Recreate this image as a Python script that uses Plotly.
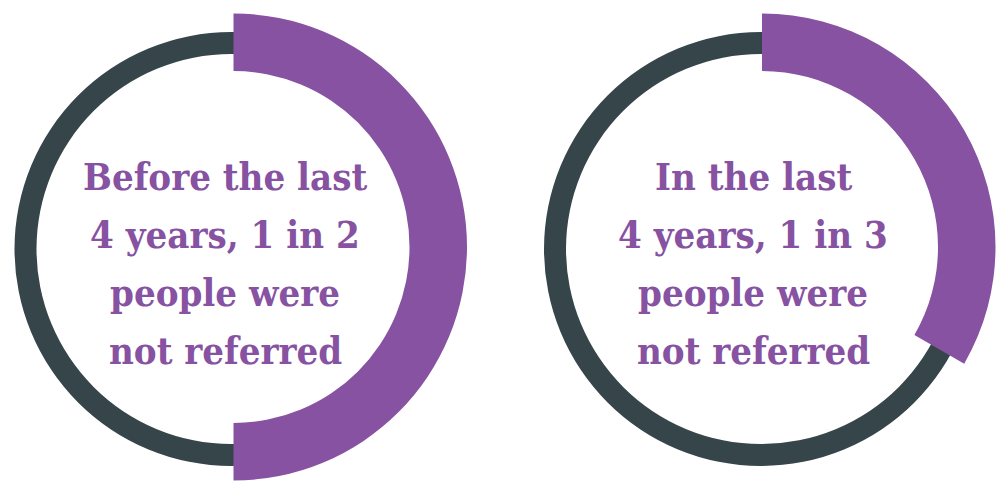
import plotly.graph_objects as go

# Data
panels = ["Before the last 4 years", "In the last 4 years"]
not_referred = [1, 1]      # 1 in 2, 1 in 3
referred = [1, 2]
text_lines = [
    ["Before the last", "4 years, 1 in 2", "people were", "not referred"],
    ["In the last", "4 years, 1 in 3", "people were", "not referred"],
]

PURPLE = "#8652A1"
DARK = "#36454A"
W, H = 1008, 481

# layout geometry (pixels)
track_centers = [(231.5, 249), (761, 249)]
track_r, track_hole = 217, 195 / 217
seg_centers = [(233.5, 247), (762, 247)]
seg_r, seg_hole = 233.5, 176 / 233.5
text_cx = [225, 753]
line_y = [176, 234, 292, 350]


def dom(cx, cy, r):
    return dict(x=[max(0, (cx - r) / W), (cx + r) / W], y=[1 - (cy + r) / H, 1 - (cy - r) / H])


fig = go.Figure()
for i in range(2):
    vals = [not_referred[i], referred[i]]
    # full-population track
    fig.add_trace(go.Pie(
        values=[sum(vals)], labels=["all people"], sort=False,
        direction="clockwise", rotation=0, hole=track_hole,
        domain=dom(*track_centers[i], track_r),
        marker=dict(colors=[DARK], line=dict(width=0)),
        textinfo="none", hoverinfo="skip", showlegend=False,
    ))
    fig.add_trace(go.Pie(
        values=vals, labels=["not referred", "referred"], sort=False,
        direction="clockwise", rotation=0, hole=seg_hole,
        domain=dom(*seg_centers[i], seg_r),
        marker=dict(colors=[PURPLE, "rgba(0,0,0,0)"], line=dict(width=0)),
        textinfo="none", hoverinfo="skip", showlegend=False,
    ))
    for j, t in enumerate(text_lines[i]):
        fig.add_annotation(
            x=text_cx[i] / W, y=1 - line_y[j] / H, xref="paper", yref="paper",
            text=f"<b>{t}</b>", showarrow=False, xanchor="center", yanchor="middle",
            font=dict(family="DejaVu Serif Condensed, DejaVu Serif", size=38, color=PURPLE),
        )

fig.update_layout(
    width=W, height=H, margin=dict(l=0, r=0, t=0, b=0),
    paper_bgcolor="white", plot_bgcolor="white", showlegend=False,
)
fig.write_html("out.html")
